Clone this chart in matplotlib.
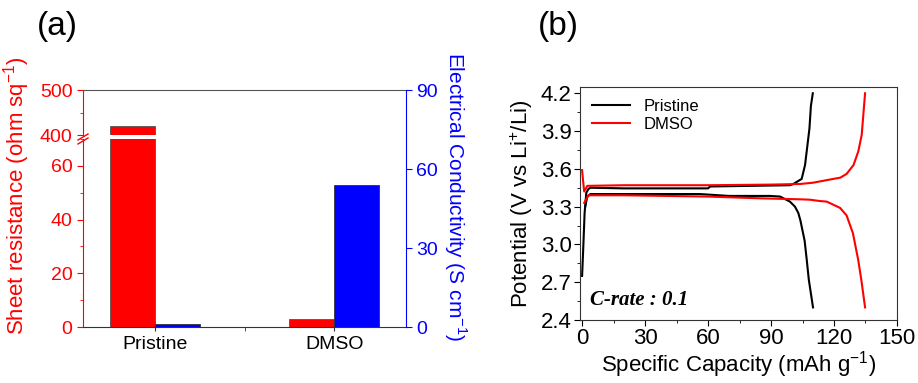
import matplotlib
matplotlib.use("Agg")
import matplotlib.pyplot as plt
from matplotlib.ticker import MultipleLocator

plt.rcParams['font.family'] = ['Liberation Sans', 'DejaVu Sans']
plt.rcParams['mathtext.fontset'] = 'custom'
plt.rcParams['mathtext.rm'] = 'Liberation Sans'

# ---- data: panel (a)
samples = ['Pristine', 'DMSO']
sheet_res = [420, 3]        # ohm sq-1
conductivity = [1, 54]      # S cm-1

# ---- data: panel (b)
pri_chg_cap = [0, 0.5, 1.2, 2.0, 3.0, 4.0, 20, 40, 60, 61, 80, 99, 100.6, 104.6, 106.2, 107, 108.3, 109, 109.9]
pri_chg_v = [2.75, 2.95, 3.25, 3.41, 3.44, 3.45, 3.445, 3.445, 3.445, 3.46, 3.465, 3.47, 3.48, 3.52, 3.63, 3.74, 3.92, 4.1, 4.2]
pri_dis_cap = [1.5, 2.5, 4, 20, 40, 56, 70, 89.5, 94.3, 99, 101.4, 103, 104, 106, 107, 108, 110]
pri_dis_v = [3.30, 3.38, 3.40, 3.40, 3.40, 3.40, 3.385, 3.385, 3.38, 3.34, 3.30, 3.25, 3.19, 3.03, 2.88, 2.72, 2.50]
dmso_chg_cap = [0, 0.5, 1.0, 2.5, 20, 60, 90, 104, 110, 119.6, 123, 126, 129.3, 131.6, 133.2, 134.8]
dmso_chg_v = [3.59, 3.50, 3.42, 3.465, 3.47, 3.47, 3.475, 3.48, 3.49, 3.52, 3.53, 3.56, 3.63, 3.74, 3.87, 4.2]
dmso_dis_cap = [1.0, 3.0, 20, 60, 85, 104, 108.6, 113, 116.5, 122.9, 126, 129, 131.5, 133, 134.8]
dmso_dis_v = [3.33, 3.39, 3.39, 3.38, 3.366, 3.358, 3.355, 3.345, 3.34, 3.29, 3.23, 3.09, 2.88, 2.72, 2.50]

fig = plt.figure(figsize=(9.18, 3.83), dpi=100)
FW, FH = 918.0, 383.0

# ================= panel (a): broken left axis + right twin
L, W = 0.0904, 0.3519
ax_lo = fig.add_axes([L, 0.1462, W, 0.4909])
ax_hi = fig.add_axes([L, 0.6475, W, 0.1175], sharex=ax_lo)
ax_r = fig.add_axes([L, 0.1462, W, 0.6188], sharex=ax_lo)
ax_r.patch.set_visible(False)

xs = range(len(samples))
bw = 0.25
for ax in (ax_lo, ax_hi):
    ax.bar([x - bw / 2 for x in xs], sheet_res, width=bw, color='#ff0000',
           edgecolor='#555555', linewidth=0.6)
ax_r.bar([x + bw / 2 for x in xs], conductivity, width=bw, color='#0000ff',
         edgecolor='#333333', linewidth=0.6)

ax_lo.set_ylim(0, 70)
ax_hi.set_ylim(400, 500)
ax_r.set_ylim(0, 90)
ax_lo.set_xlim(-0.4, 1.4)

red = '#ff0000'
blue = '#0000ff'
for ax in (ax_lo, ax_hi):
    ax.spines['right'].set_visible(False)
    ax.spines['left'].set_color(red)
    ax.tick_params(axis='y', colors=red, labelsize=14, length=4, direction='out')
    ax.tick_params(axis='y', which='minor', colors=red, length=2.5, direction='out')
ax_lo.spines['top'].set_visible(False)
ax_hi.spines['bottom'].set_visible(False)
ax_hi.spines['top'].set_color('#555555')
ax_lo.spines['bottom'].set_color('#333333')
ax_hi.tick_params(axis='x', which='both', bottom=False, labelbottom=False)

ax_lo.set_yticks([0, 20, 40, 60])
ax_lo.yaxis.set_minor_locator(MultipleLocator(10))
ax_hi.set_yticks([400, 500])
ax_hi.yaxis.set_minor_locator(MultipleLocator(50))

ax_lo.set_xticks(list(xs))
ax_lo.set_xticklabels(samples)
ax_lo.set_xticks([0.5], minor=True)
ax_lo.tick_params(axis='x', which='both', labelsize=14, length=3, direction='out',
                  color='#333333')

for s in ('left', 'top', 'bottom'):
    ax_r.spines[s].set_visible(False)
ax_r.spines['right'].set_color(blue)
ax_r.yaxis.tick_right()
ax_r.set_yticks([0, 30, 60, 90])
ax_r.tick_params(axis='y', colors=blue, labelsize=14, length=4, direction='out')
ax_r.tick_params(axis='x', which='both', bottom=False, labelbottom=False)

# break marks on the left spine (figure pixels)
for y1, y2 in ((140, 134), (144, 138)):
    fig.add_artist(plt.Line2D([78 / FW, 88 / FW], [1 - y1 / FH, 1 - y2 / FH],
                              color=red, lw=1.0, transform=fig.transFigure))

fig.text(0.018, 0.49, 'Sheet resistance (ohm sq$^{-1}$)', color=red, fontsize=16,
         rotation=90, ha='center', va='center')
fig.text(0.496, 0.485, 'Electrical Conductivity (S cm$^{-1}$)', color=blue, fontsize=15,
         rotation=-90, ha='center', va='center')
fig.text(0.062, 0.93, '(a)', fontsize=24, ha='center', va='center')

# ================= panel (b): charge/discharge curves
axb = fig.add_axes([0.6318, 0.1645, 0.3453, 0.6084])
axb.plot(pri_chg_cap, pri_chg_v, color='black', lw=1.5, label='Pristine')
axb.plot(dmso_chg_cap, dmso_chg_v, color=red, lw=1.5, label='DMSO')
axb.plot(pri_dis_cap, pri_dis_v, color='black', lw=1.5)
axb.plot(dmso_dis_cap, dmso_dis_v, color=red, lw=1.5)

axb.set_xlim(-1, 150)
axb.set_ylim(2.4, 4.25)
axb.set_xticks([0, 30, 60, 90, 120, 150])
axb.xaxis.set_minor_locator(MultipleLocator(15))
axb.set_yticks([2.4, 2.7, 3.0, 3.3, 3.6, 3.9, 4.2])
axb.yaxis.set_minor_locator(MultipleLocator(0.15))
axb.tick_params(which='both', labelsize=16, direction='out', length=4, pad=2)
axb.tick_params(which='minor', length=2.5)
for s in axb.spines.values():
    s.set_color('#333333')

axb.set_xlabel('Specific Capacity (mAh g$^{-1}$)', fontsize=16, labelpad=0)
axb.set_ylabel('Potential (V vs Li$^{+}$/Li)', fontsize=16, labelpad=4)
axb.legend(loc='upper left', frameon=False, fontsize=12, handlelength=2.3,
           borderaxespad=0.3, labelspacing=0.2)
axb.text(0.03, 0.085, 'C-rate : 0.1', transform=axb.transAxes, fontsize=15,
         family=['Liberation Serif'], weight='bold', style='italic', va='center')
fig.text(0.608, 0.93, '(b)', fontsize=24, ha='center', va='center')

fig.savefig('out.png', dpi=100)
